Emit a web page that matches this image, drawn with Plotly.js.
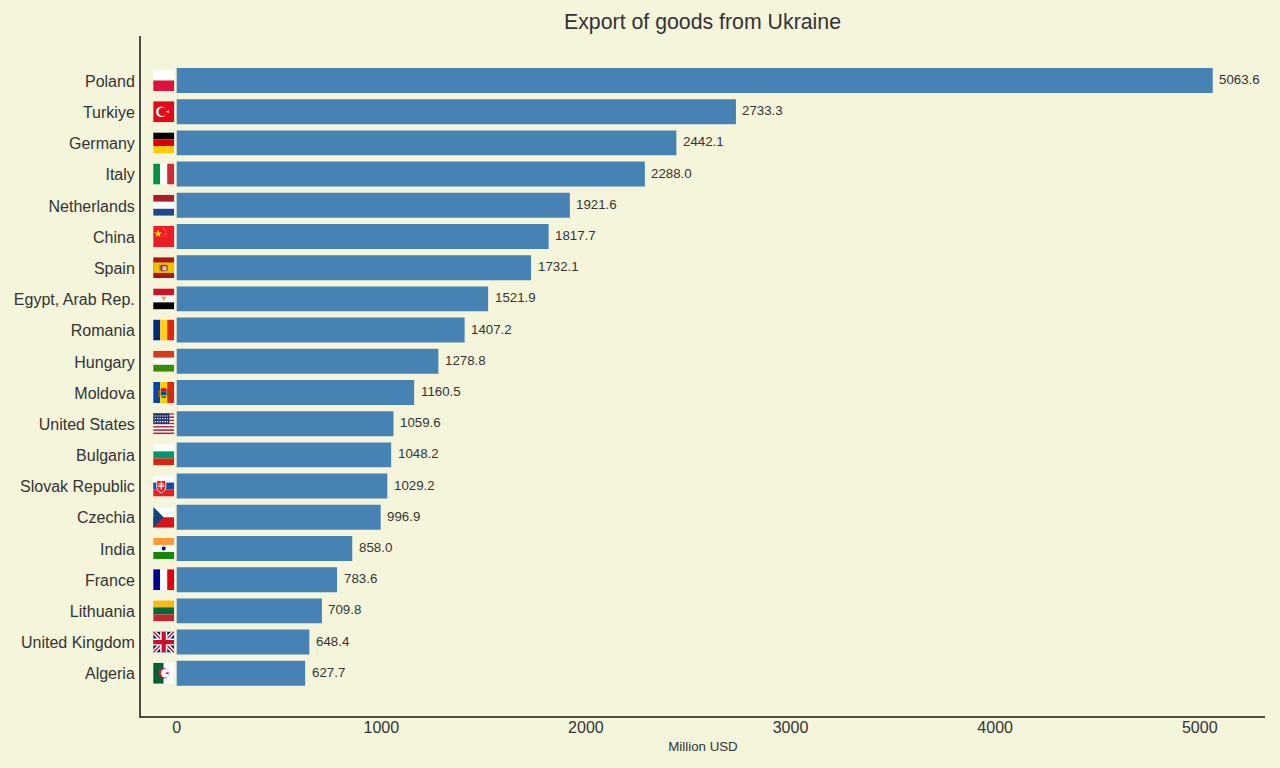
<!DOCTYPE html>
<html>
<head>
<meta charset="utf-8">
<script src="https://cdn.plot.ly/plotly-3.0.1.min.js"></script>
<style>
html, body { margin: 0; padding: 0; background: #f5f5dc; }
</style>
</head>
<body>
<div id="myDiv" style="width:1280px;height:768px;"></div>
<script>
// values, in Million USD
var countries = ["Poland", "Turkiye", "Germany", "Italy", "Netherlands", "China", "Spain",
    "Egypt, Arab Rep.", "Romania", "Hungary", "Moldova", "United States", "Bulgaria",
    "Slovak Republic", "Czechia", "India", "France", "Lithuania", "United Kingdom", "Algeria"];
var exports = [5063.6, 2733.3, 2442.1, 2288.0, 1921.6, 1817.7, 1732.1,
    1521.9, 1407.2, 1278.8, 1160.5, 1059.6, 1048.2,
    1029.2, 996.9, 858.0, 783.6, 709.8, 648.4, 627.7];
var xTicks = [0, 1000, 2000, 3000, 4000, 5000];

var textColor = '#333333';

function rect(x, y, w, h, c) {
    return '<rect x="' + x + '" y="' + y + '" width="' + w + '" height="' + h + '" fill="' + c + '"/>';
}
function hStripes(cols) {
    return cols.map(function (c, i) { return rect(0, i * 30 / cols.length, 30, 30 / cols.length, c); }).join('');
}
function vStripes(cols) {
    return cols.map(function (c, i) { return rect(i * 30 / cols.length, 0, 30 / cols.length, 30, c); }).join('');
}

// every flag is drawn on a 30x30 box, stretched onto the row next to the axis
var flags = {
    "Poland": hStripes(['#ffffff', '#dc143c']),
    "Turkiye": rect(0, 0, 30, 30, '#e30a17') + '<circle cx="11.500" cy="15" r="7.500" fill="#fff"/><circle cx="13.500" cy="15" r="6" fill="#e30a17"/><path d="M18 15l5-2-1 2 1 2z" fill="#fff"/>',
    "Germany": hStripes(['#000000', '#dd0000', '#ffce00']),
    "Italy": vStripes(['#009246', '#ffffff', '#ce2b37']),
    "Netherlands": hStripes(['#ae1c28', '#ffffff', '#21468b']),
    "China": rect(0, 0, 30, 30, '#ee1c25') + '<path d="M7 5l1.400 4.200h4.400l-3.600 2.600 1.400 4.200L7 13.400l-3.600 2.600 1.400-4.200-3.600-2.600h4.400z" fill="#ffde00"/><g fill="#ffde00"><circle cx="15" cy="4" r=".9"/><circle cx="18" cy="7" r=".9"/><circle cx="18" cy="11" r=".9"/><circle cx="15" cy="14" r=".9"/></g>',
    "Spain": rect(0, 0, 30, 30, '#aa151b') + rect(0, 7.500, 30, 15, '#f1bf00') + rect(11, 11, 8, 9, '#ad1519') + rect(13, 13, 6, 6, '#cccccc') + rect(9, 11, 2, 8, '#8a6a3a') + rect(19, 11, 2, 8, '#8a6a3a'),
    "Egypt, Arab Rep.": hStripes(['#ce1126', '#ffffff', '#000000']) + '<path d="M11 12h8l-2 3h-1v3h-2v-3h-1z" fill="#c09300" fill-opacity=".7"/>',
    "Romania": vStripes(['#002b7f', '#fcd116', '#e0260f']),
    "Hungary": hStripes(['#d63a1c', '#ffffff', '#3c8a00']),
    "Moldova": vStripes(['#0046ae', '#ffd200', '#e0260f']) + rect(11, 9, 8, 5, '#c8102e') + rect(11, 14, 8, 5, '#0046ae') + rect(7, 11, 3, 11, '#7a5a20') + rect(20, 11, 3, 11, '#7a5a20') + rect(12, 20, 6, 3, '#3c7a30'),
    "United States": hStripes(['#b22234', '#ffffff', '#b22234', '#ffffff', '#b22234', '#ffffff', '#b22234', '#ffffff', '#b22234', '#ffffff', '#b22234', '#ffffff', '#b22234']) + rect(0, 0, 23, 15, '#1f3468') + '<path d="M2 4h19M2 8h19M2 12h19" stroke="#fff" stroke-width="1.600" stroke-dasharray="2 1.500"/>',
    "Bulgaria": hStripes(['#ffffff', '#00966e', '#d62612']),
    "Slovak Republic": hStripes(['#ffffff', '#0b4ea2', '#ee1c25']) + '<path d="M5 7h13v10q0 5-6.500 8q-6.500-3-6.500-8z" fill="#ee1c25" stroke="#fff" stroke-width="1.200"/><path d="M11.500 9v11M8 12h7M7 15h9" stroke="#fff" stroke-width="1.600"/>',
    "Czechia": hStripes(['#ffffff', '#d7141a']) + '<path d="M0 0L15 15L0 30z" fill="#11457e"/>',
    "India": hStripes(['#ff9933', '#ffffff', '#138808']) + '<circle cx="15" cy="15" r="2.800" fill="#000088"/>',
    "France": vStripes(['#000091', '#ffffff', '#e1000f']),
    "Lithuania": hStripes(['#fdb913', '#006a44', '#c1272d']),
    "United Kingdom": rect(0, 0, 30, 30, '#012169') + '<path d="M0 0L30 30M30 0L0 30" stroke="#fff" stroke-width="6"/><path d="M0 0L30 30M30 0L0 30" stroke="#c8102e" stroke-width="2"/><path d="M15 0V30M0 15H30" stroke="#fff" stroke-width="10"/><path d="M15 0V30M0 15H30" stroke="#c8102e" stroke-width="6"/>',
    "Algeria": vStripes(['#006233', '#ffffff']) + '<circle cx="15" cy="15" r="7.500" fill="#d21034"/><circle cx="17" cy="15" r="6" fill="#ffffff"/><path d="M16 15l7-2-2 2 2 2z" fill="#d21034"/>'
};

function flagUri(name) {
    var svg = '<svg xmlns="http://www.w3.org/2000/svg" width="84" height="84" viewBox="0 0 30 30" preserveAspectRatio="none">' + flags[name] + '</svg>';
    return 'data:image/svg+xml;charset=utf-8,' + encodeURIComponent(svg);
}

var flagImages = countries.map(function (name, i) {
    return {
        source: flagUri(name),
        xref: 'x', yref: 'y',
        x: -115, y: i,
        sizex: 103, sizey: 0.673,
        sizing: 'stretch',
        xanchor: 'left', yanchor: 'middle',
        layer: 'above'
    };
});

var valueLabels = countries.map(function (name, i) {
    return {
        x: exports[i], y: i,
        xref: 'x', yref: 'y',
        text: exports[i].toFixed(1),
        showarrow: false,
        xanchor: 'left', yanchor: 'middle',
        xshift: 4.500, yshift: 1,
        font: { family: 'Liberation Sans', size: 13.300, color: textColor }
    };
});

var trace = {
    type: 'bar',
    orientation: 'h',
    x: exports,
    y: countries.map(function (c, i) { return i; }),
    width: 0.8,
    marker: { color: '#4682b4' },
    hoverinfo: 'x'
};

var layout = {
    width: 1280,
    height: 768,
    paper_bgcolor: '#f5f5dc',
    plot_bgcolor: '#f5f5dc',
    showlegend: false,
    margin: { l: 141, r: 15, t: 36, b: 52 },
    font: { family: 'Liberation Sans', color: textColor },
    title: {
        text: 'Export of goods from Ukraine',
        font: { family: 'Liberation Sans', size: 21.300, color: textColor },
        x: 702.500 / 1280, xanchor: 'center',
        y: 1 - 22 / 768, yanchor: 'middle'
    },
    xaxis: {
        range: [-174.5, 5319],
        tickvals: xTicks,
        ticktext: xTicks.map(String),
        tickfont: { size: 16, color: textColor },
        showgrid: false,
        zeroline: false,
        showline: true,
        linecolor: '#4d4d48',
        linewidth: 2,
        ticks: '',
        ticklabelstandoff: -4,
        title: { text: 'Million USD', font: { size: 13.300, color: textColor }, standoff: 6 }
    },
    yaxis: {
        range: [20.37, -1.426],
        tickvals: countries.map(function (c, i) { return i + 0.02; }),
        ticktext: countries,
        tickfont: { size: 16, color: textColor },
        showgrid: false,
        zeroline: false,
        showline: true,
        linecolor: '#4d4d48',
        linewidth: 2,
        ticks: '',
        ticklabelstandoff: 1
    },
    images: flagImages,
    annotations: valueLabels,
    bargap: 0.2
};

Plotly.newPlot('myDiv', [trace], layout, { displayModeBar: false });
</script>
</body>
</html>
